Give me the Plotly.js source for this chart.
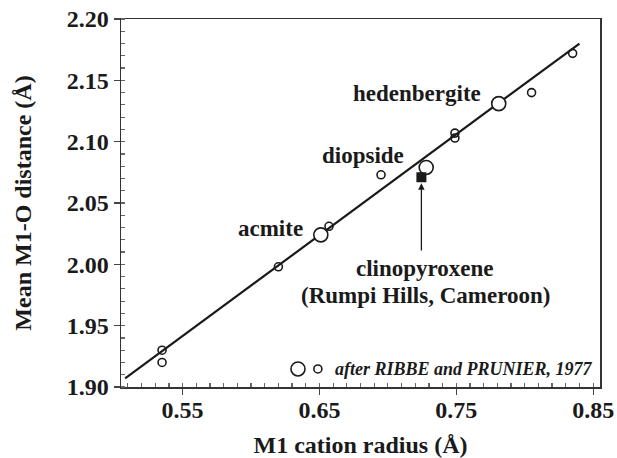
<!DOCTYPE html>
<html>
<head>
<meta charset="utf-8">
<script src="https://cdn.plot.ly/plotly-3.0.1.min.js"></script>
<style>html,body{margin:0;padding:0;background:#fff;}#chart{width:617px;height:458px;}</style>
</head>
<body>
<div id="chart"></div>
<script>
// Ribbe & Prunier (1977) data, small circles
const refRadius = [0.535, 0.535, 0.620, 0.657, 0.695, 0.749, 0.749, 0.805, 0.835];
const refDist   = [1.930, 1.920, 1.998, 2.031, 2.073, 2.103, 2.107, 2.140, 2.172];
// End-member pyroxenes, large circles
const endNames  = ["acmite", "diopside", "hedenbergite"];
const endRadius = [0.651, 0.728, 0.781];
const endDist   = [2.024, 2.079, 2.131];
// Clinopyroxene (Rumpi Hills, Cameroon)
const cpxRadius = [0.7245];
const cpxDist   = [2.071];
// Regression line end points
const fitRadius = [0.508, 0.840];
const fitDist   = [1.907, 2.180];

const FONT = "'Liberation Serif', 'Times New Roman', serif";
const INK = "#1a1a1a";

const traces = [
  {x: fitRadius, y: fitDist, mode: "lines", line: {color: INK, width: 2.2}, hoverinfo: "skip", showlegend: false},
  {x: refRadius, y: refDist, mode: "markers", showlegend: false,
   marker: {symbol: "circle-open", size: 8, color: INK, line: {width: 1.6, color: INK}}},
  {x: endRadius, y: endDist, mode: "markers", showlegend: false, text: endNames,
   marker: {symbol: "circle", size: 14, color: "#fff", line: {width: 1.6, color: INK}}},
  {x: cpxRadius, y: cpxDist, mode: "markers", showlegend: false,
   marker: {symbol: "square", size: 10, color: INK, line: {width: 0}}}
];

const labelFont = {family: FONT, size: 23, color: INK, weight: "bold"};

const layout = {
  width: 617, height: 458,
  margin: {l: 121, r: 17, t: 19, b: 71},
  paper_bgcolor: "#fff", plot_bgcolor: "#fff",
  font: {family: FONT, color: INK},
  xaxis: {
    range: [0.505, 0.855], tick0: 0.55, dtick: 0.1, tickformat: ".2f",
    ticks: "outside", ticklen: 6, tickwidth: 1.2, tickcolor: "#444", ticklabelstandoff: -5,
    minor: {dtick: 0.01, ticks: "inside", ticklen: 4, tickcolor: "#666", showgrid: false},
    showgrid: false, zeroline: false, showline: true, linecolor: "#333", linewidth: 1.5, mirror: true,
    tickfont: {family: FONT, size: 24, color: INK, weight: "bold"},
    title: {text: "M1 cation radius (Å)", font: {family: FONT, size: 24, color: INK, weight: "bold"}, standoff: 14}
  },
  yaxis: {
    range: [1.90, 2.20], tick0: 1.90, dtick: 0.05, tickformat: ".2f",
    ticks: "outside", ticklen: 6, tickwidth: 1.2, tickcolor: "#444",
    minor: {dtick: 0.01, ticks: "inside", ticklen: 4, tickcolor: "#666", showgrid: false},
    showgrid: false, zeroline: false, showline: true, linecolor: "#333", linewidth: 1.5, mirror: true,
    tickfont: {family: FONT, size: 24, color: INK, weight: "bold"},
    title: {text: "Mean M1-O distance (Å)", font: {family: FONT, size: 24, color: INK, weight: "bold"}, standoff: 28}
  },
  annotations: [
    {x: 0.7697, y: 2.1396, xref: "x", yref: "y", text: "hedenbergite", showarrow: false, xanchor: "right", yanchor: "middle", font: labelFont},
    {x: 0.6398, y: 2.0296, xref: "x", yref: "y", text: "acmite", showarrow: false, xanchor: "right", yanchor: "middle", font: labelFont},
    {x: 0.682, y: 2.089, xref: "x", yref: "y", text: "diopside", showarrow: false, xanchor: "center", yanchor: "middle", font: labelFont},
    {x: 0.7274, y: 1.997, xref: "x", yref: "y", text: "clinopyroxene", showarrow: false, xanchor: "center", yanchor: "middle", font: labelFont},
    {x: 0.7274, y: 1.975, xref: "x", yref: "y", text: "(Rumpi Hills, Cameroon)", showarrow: false, xanchor: "center", yanchor: "middle", font: labelFont},
    {x: 0.7245, y: 2.066, xref: "x", yref: "y", ax: 0.7245, ay: 2.010, axref: "x", ayref: "y",
     text: "", showarrow: true, arrowhead: 2, arrowsize: 1, arrowwidth: 1.3, arrowcolor: INK},
    {x: 0.99, y: 0.049, xref: "paper", yref: "paper", text: "<i>after RIBBE and PRUNIER, 1977</i>", showarrow: false,
     xanchor: "right", yanchor: "middle", font: {family: FONT, size: 18, color: INK, weight: "bold"}}
  ],
  shapes: [
    {type: "circle", xref: "paper", yref: "paper", xsizemode: "pixel", ysizemode: "pixel",
     xanchor: 0.3695, yanchor: 0.049, x0: -7, x1: 7, y0: -7, y1: 7, line: {color: INK, width: 1.6}},
    {type: "circle", xref: "paper", yref: "paper", xsizemode: "pixel", ysizemode: "pixel",
     xanchor: 0.411, yanchor: 0.049, x0: -4, x1: 4, y0: -4, y1: 4, line: {color: INK, width: 1.6}}
  ]
};

Plotly.newPlot("chart", traces, layout, {staticPlot: true, displayModeBar: false});
</script>
</body>
</html>
